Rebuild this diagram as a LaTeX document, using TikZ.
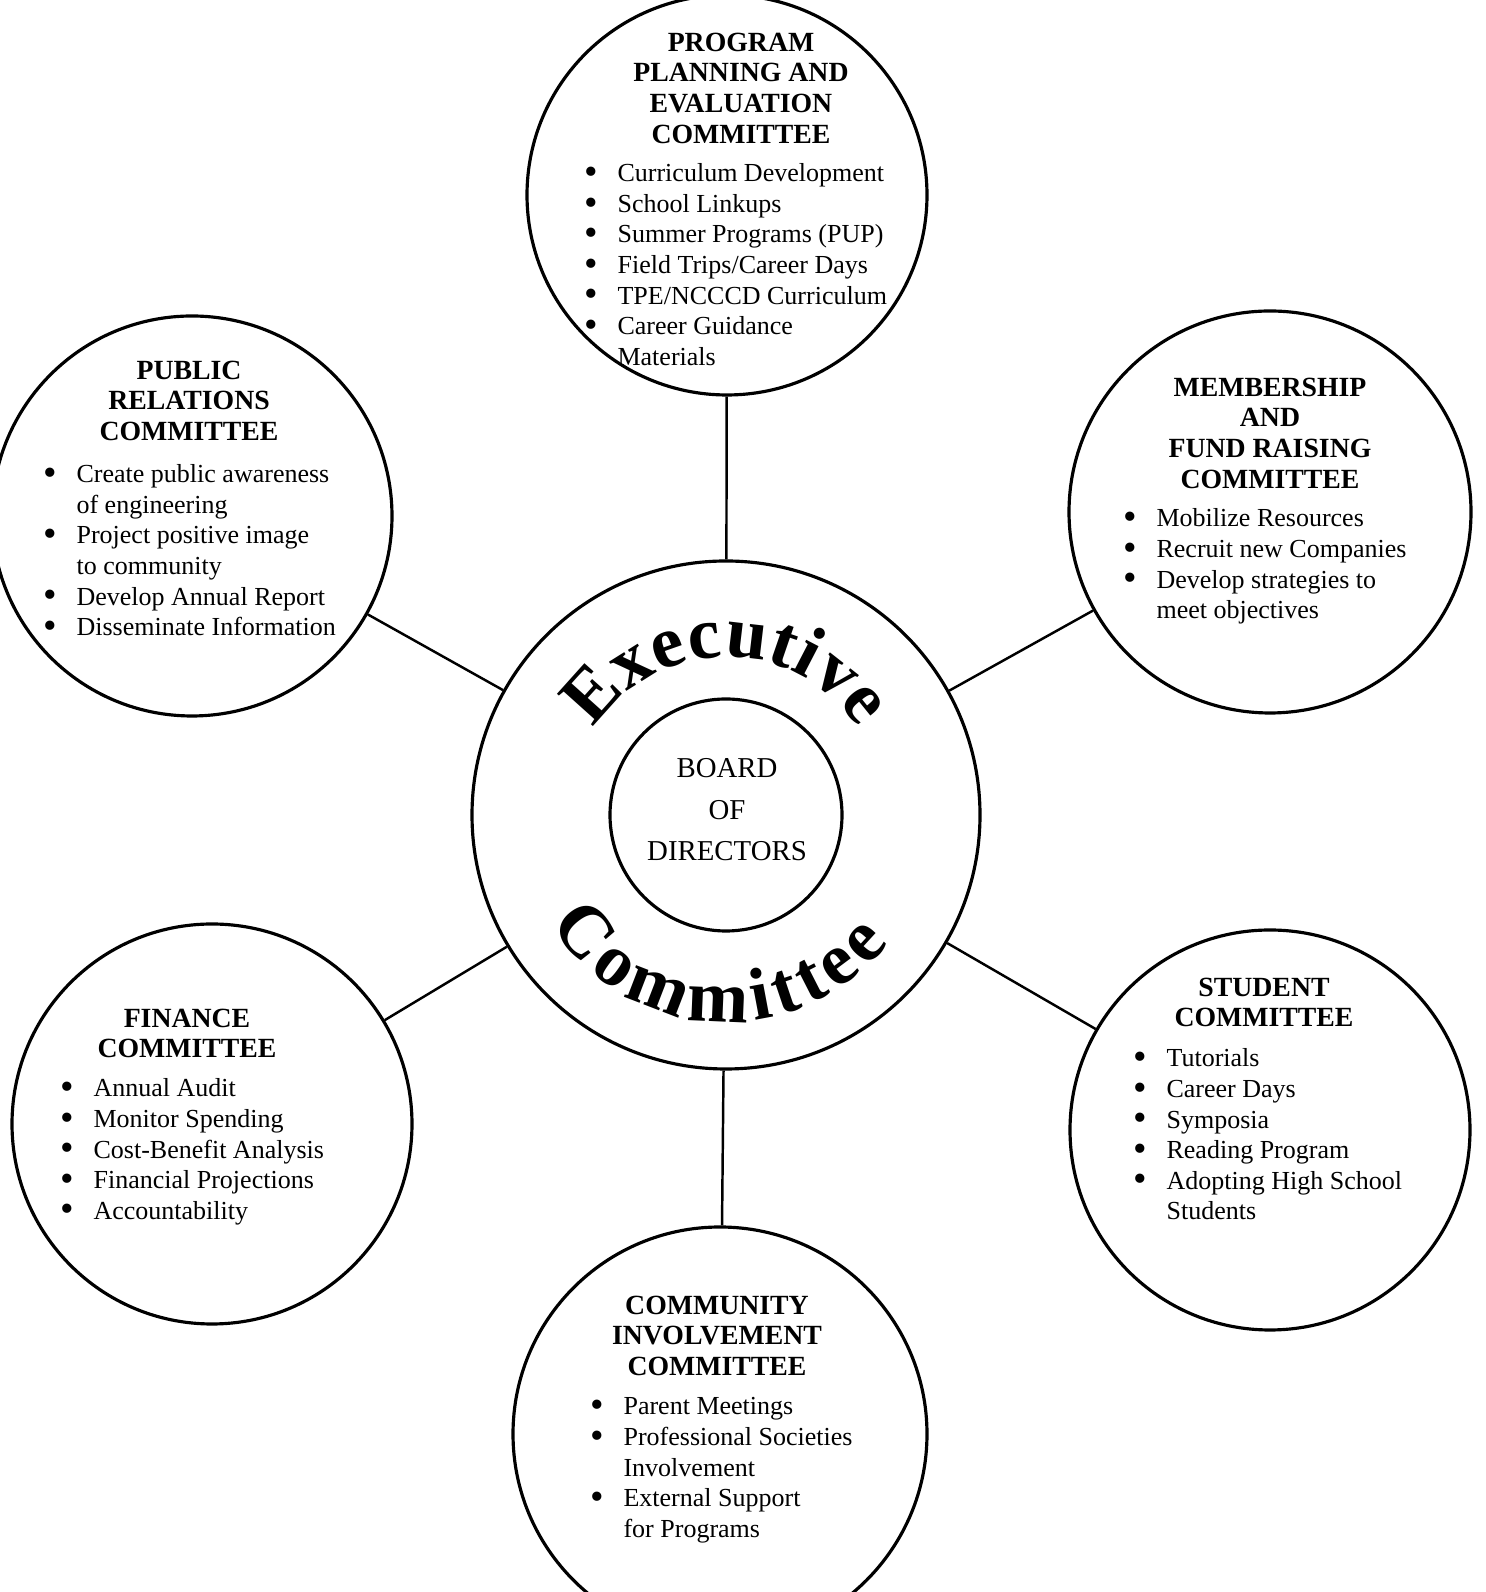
\documentclass[tikz,border=0pt]{standalone}
\usepackage{fontspec}
\setmainfont{Liberation Serif}
\usetikzlibrary{calc,decorations.text}

\newcommand{\dotb}{\raisebox{-0.8pt}{\fontsize{11}{8}\selectfont\textbullet}}

\begin{document}
\begin{tikzpicture}[
    x=0.1mm,
    y=0.1mm,
    committee/.style={
        draw,
        circle,
        line width=0.9pt,
        minimum size=40mm,
        inner sep=0pt
    },
    title/.style={
        align=center,
        anchor=north,
        inner sep=0pt,
        font=\bfseries\fontsize{7.9}{8.73}\selectfont
    },
    duties/.style={
        anchor=base west,
        inner sep=0pt,
        font=\fontsize{7.4}{8.68}\selectfont
    },
    link/.style={
        line width=0.7pt
    },
    curved/.style={
        decorate,
        decoration={
            text along path,
            text align={fit to path},
            text={#1}
        }
    }
]

\useasboundingbox (0,0) rectangle (1486,1592);
\clip (0,0) rectangle (1486,1592);

%%%%%%%%%%%%%%%%%%%%%%%%%%%%%%%%%%%%%%%%%%%%%%%%%%%%
%% Executive committee and board
%%%%%%%%%%%%%%%%%%%%%%%%%%%%%%%%%%%%%%%%%%%%%%%%%%%%

\node[committee, minimum size=50.8mm] (exec) at (726,777) {};
\node[committee, minimum size=23.2mm] (board) at (exec) {};

\node[
    title,
    font=\fontsize{8.2}{11.8}\selectfont
] (boardtext) at ($(exec)+(1,57)$)
{BOARD\\OF\\DIRECTORS};

\path[curved={|\bfseries\fontsize{21}{21}\selectfont|Executive}]
    ($(exec)+(147:158)$) arc[start angle=147, end angle=33, radius=158];
\path[curved={|\bfseries\fontsize{21}{21}\selectfont|Committee}]
    ($(exec)+(212:207)$) arc[start angle=212, end angle=322, radius=207];

%%%%%%%%%%%%%%%%%%%%%%%%%%%%%%%%%%%%%%%%%%%%%%%%%%%%
%% Committees
%%%%%%%%%%%%%%%%%%%%%%%%%%%%%%%%%%%%%%%%%%%%%%%%%%%%

\node[committee] (prog) at (727,1397) {};
\node[committee] (pr)   at (192,1076) {};
\node[committee, minimum size=40.2mm] (memb) at (1270,1080) {};
\node[committee] (fin)  at (212,468) {};
\node[committee] (stud) at (1270,462) {};
\node[committee, minimum size=41.4mm] (comm) at (720,158) {};

%%%%%%%%%%%%%%%%%%%%%%%%%%%%%%%%%%%%%%%%%%%%%%%%%%%%
%% Titles
%%%%%%%%%%%%%%%%%%%%%%%%%%%%%%%%%%%%%%%%%%%%%%%%%%%%

\node[title] (progtitle) at ($(prog)+(14,163)$)
{PROGRAM\\PLANNING AND\\EVALUATION\\COMMITTEE};

\node[title] (prtitle) at ($(pr)+(-3,156)$)
{PUBLIC\\RELATIONS\\COMMITTEE};

\node[title] (membtitle) at ($(memb)+(0,135)$)
{MEMBERSHIP\\AND\\FUND RAISING\\COMMITTEE};

\node[title] (fintitle) at ($(fin)+(-25,116)$)
{FINANCE\\COMMITTEE};

\node[title] (studtitle) at ($(stud)+(-6,153)$)
{STUDENT\\COMMITTEE};

\node[title] (commtitle) at ($(comm)+(-3,139)$)
{COMMUNITY\\INVOLVEMENT\\COMMITTEE};

%%%%%%%%%%%%%%%%%%%%%%%%%%%%%%%%%%%%%%%%%%%%%%%%%%%%
%% Duties
%%%%%%%%%%%%%%%%%%%%%%%%%%%%%%%%%%%%%%%%%%%%%%%%%%%%

\node[duties] (proglist) at ($(prog)+(-143,13)$)
{\begin{tabular}[t]{@{}l@{\hspace{5.5pt}}l@{}}
\dotb & Curriculum Development\\
\dotb & School Linkups\\
\dotb & Summer Programs (PUP)\\
\dotb & Field Trips/Career Days\\
\dotb & TPE/NCCCD Curriculum\\
\dotb & Career Guidance\\
      & Materials
\end{tabular}};

\node[duties] (prlist) at ($(pr)+(-149,33)$)
{\begin{tabular}[t]{@{}l@{\hspace{5.5pt}}l@{}}
\dotb & Create public awareness\\
      & of engineering\\
\dotb & Project positive image\\
      & to community\\
\dotb & Develop Annual Report\\
\dotb & Disseminate Information
\end{tabular}};

\node[duties] (memblist) at ($(memb)+(-147,-15)$)
{\begin{tabular}[t]{@{}l@{\hspace{5.5pt}}l@{}}
\dotb & Mobilize Resources\\
\dotb & Recruit new Companies\\
\dotb & Develop strategies to\\
      & meet objectives
\end{tabular}};

\node[duties] (finlist) at ($(fin)+(-152,27)$)
{\begin{tabular}[t]{@{}l@{\hspace{5.5pt}}l@{}}
\dotb & Annual Audit\\
\dotb & Monitor Spending\\
\dotb & Cost-Benefit Analysis\\
\dotb & Financial Projections\\
\dotb & Accountability
\end{tabular}};

\node[duties] (studlist) at ($(stud)+(-137,63)$)
{\begin{tabular}[t]{@{}l@{\hspace{5.5pt}}l@{}}
\dotb & Tutorials\\
\dotb & Career Days\\
\dotb & Symposia\\
\dotb & Reading Program\\
\dotb & Adopting High School\\
      & Students
\end{tabular}};

\node[duties] (commlist) at ($(comm)+(-130,19)$)
{\begin{tabular}[t]{@{}l@{\hspace{5.5pt}}l@{}}
\dotb & Parent Meetings\\
\dotb & Professional Societies\\
      & Involvement\\
\dotb & External Support\\
      & for Programs
\end{tabular}};

%%%%%%%%%%%%%%%%%%%%%%%%%%%%%%%%%%%%%%%%%%%%%%%%%%%%
%% Links
%%%%%%%%%%%%%%%%%%%%%%%%%%%%%%%%%%%%%%%%%%%%%%%%%%%%

\draw[link] (exec) -- (prog);
\draw[link] (exec) -- (pr);
\draw[link] (exec) -- (memb);
\draw[link] (exec) -- (fin);
\draw[link] (exec) -- (stud);
\draw[link] (exec) -- (comm);

\end{tikzpicture}
\end{document}
